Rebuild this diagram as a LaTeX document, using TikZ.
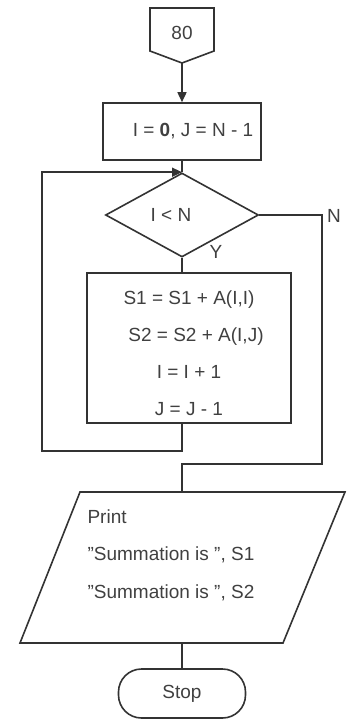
\documentclass[tikz,border=0pt]{standalone}
\usepackage{fontspec}
\setmainfont{Liberation Sans}
\usetikzlibrary{shapes.geometric,arrows.meta}
\definecolor{ln}{HTML}{333333}
\definecolor{tx}{HTML}{404040}
\begin{document}
\begin{tikzpicture}[x=1pt,y=-1pt,
  every node/.style={font=\fontsize{19}{23}\selectfont, text=tx},
  line/.style={draw=ln, line width=1.6pt},
  arr/.style={line, -{Triangle[length=10pt,width=9pt]}},
  box/.style={line, rectangle, inner sep=0pt},
  decision/.style={line, diamond, inner sep=0pt},
  term/.style={line, rectangle, rounded corners=23pt, inner sep=0pt}]
\useasboundingbox (0,0) rectangle (347,722);
% off-page connector
\node (c80) at (182,33) {80};
\draw[line, line join=miter] (150,8) -- (214,8) -- (214,51) -- (182,63) -- (150,51) -- cycle;
\coordinate (c80tip) at (182,63);
% init
\node[box, minimum width=158pt, minimum height=57pt,
  label={[xshift=11pt]center:I = \textbf{0}, J = N - 1}] (init) at (182,131.5) {};
\draw[arr] (c80tip) -- (init.north);
% decision
\node[decision, minimum width=153pt, minimum height=84pt,
  label={[xshift=-11pt]center:I < N}] (dec) at (182,215) {};
\draw[line] (init.south) -- (dec.north);
\node (nlab) at (334,216) {N};
\node (ylab) at (216,252) {Y};
% process
\node[box, minimum width=204pt, minimum height=150pt,
  label={[align=center, font=\fontsize{19}{37}\selectfont, yshift=-5pt]center:%
  S1 = S1 + A(I,I)\\ \hspace*{14pt}S2 = S2 + A(I,J)\\ I = I + 1\\ J = J - 1}] (proc) at (189,348) {};
\draw[line] (dec.south) -- (dec.south |- proc.north);
\coordinate (procbot) at (dec.south |- proc.south);
\coordinate (loopcorner) at (42,451);
\draw[arr] (procbot) |- (loopcorner) |- (dec.north);
% no branch
\coordinate (nturn) at (322,464);
\coordinate (prntop) at (182,492);
\draw[line] (dec.east) -| (nturn) -| (prntop);
% print
\draw[line, line join=miter] (80,492) -- (345,492) -- (283,643) -- (20,643) -- cycle;
\node[anchor=west, align=left, font=\fontsize{19}{37.5}\selectfont] (prn) at (84,555)
  {Print\\"Summation is ", S1\\"Summation is ", S2};
\coordinate (prnbot) at (182,643);
% stop
\node[term, minimum width=127pt, minimum height=49pt] (stop) at (182,693.5) {Stop};
\draw[line] (prnbot) -- (stop.north);
\end{tikzpicture}
\end{document}
